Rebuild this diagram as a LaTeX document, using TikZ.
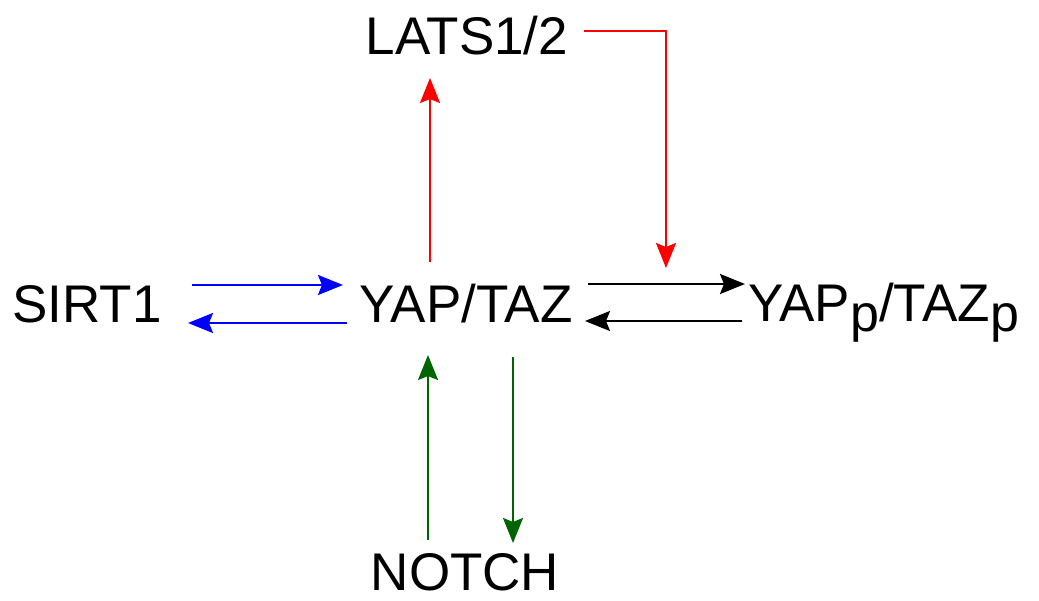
\documentclass[tikz,border=0pt]{standalone}
\usepackage{fontspec}
\setmainfont{Liberation Sans}
\usetikzlibrary{arrows.meta,calc}
\newcommand{\subp}{\raisebox{-10pt}{\fontsize{52}{52}\selectfont p}}
\tikzset{
  lbl/.style={inner sep=0pt, anchor=base, font=\fontsize{53}{58}\selectfont},
  conn/.style={line width=2.2pt, -{Stealth[length=25pt,width=20pt,inset=4pt]}},
  toblue/.style={conn, draw={rgb,255:red,0;green,0;blue,255}},
  tored/.style={conn, draw={rgb,255:red,255;green,0;blue,0}},
  togreen/.style={conn, draw={rgb,255:red,0;green,100;blue,0}},
  toblack/.style={conn, draw=black},
}
\begin{document}
\begin{tikzpicture}[x=1pt,y=-1pt]
\useasboundingbox (0,0) rectangle (1039,601);
% labels
\node[lbl] (sirt) at (87,323) {SIRT1};
\node[lbl] (yap) at (466,323) {YAP/TAZ};
\node[lbl] (lats) at (467,55) {LATS1/2};
\node[lbl] (notch) at (465,590) {NOTCH};
\node[lbl, anchor=base west] (yapp) at (748,322) {YAP\subp/TAZ\subp};
% SIRT1 <-> YAP/TAZ
\draw[toblue] ($(sirt.base)+(105,-38)$) -- ($(yap.base)+(-123,-38)$);
\draw[toblue] ($(yap.base)+(-119,0)$) -- ($(sirt.base)+(101,0)$);
% YAP/TAZ <-> YAPp/TAZp
\draw[toblack] ($(yap.base)+(122,-39)$) -- ($(yapp.base west)+(-3,-38)$);
\draw[toblack] ($(yapp.base west)+(-6,-1)$) -- ($(yap.base)+(119,-2)$);
% LATS1/2 branch
\draw[tored] ($(yap.base)+(-36,-61)$) -- ($(lats.base)+(-37,23)$);
\draw[tored] ($(lats.base)+(117,-24)$) -| ($(yap.base)+(200,-55)$);
% NOTCH <-> YAP/TAZ
\draw[togreen] ($(notch.base)+(-37,-50)$) -- ($(yap.base)+(-38,32)$);
\draw[togreen] ($(yap.base)+(47,34)$) -- ($(notch.base)+(48,-47)$);
\end{tikzpicture}
\end{document}
